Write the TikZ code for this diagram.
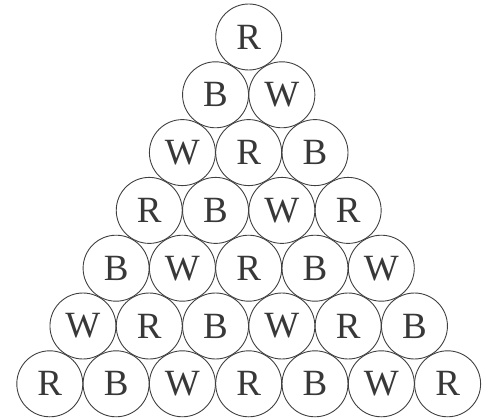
\documentclass[tikz,border=0pt]{standalone}
\usepackage{fontspec}
\setmainfont{Liberation Serif}
\begin{document}
\begin{tikzpicture}[x=1pt, y=-1pt,
    ball/.style={circle, draw=black!75, line width=0.9pt, minimum size=66pt, inner sep=0pt, text=black!78, font=\fontsize{37}{37}\selectfont}
  ]
    \useasboundingbox (0,0) rectangle (494,419);
    % rows of balls, top to bottom
    \foreach \row/\letters in {1/{R}, 2/{B,W}, 3/{W,R,B}, 4/{R,B,W,R}, 5/{B,W,R,B,W}, 6/{W,R,B,W,R,B}, 7/{R,B,W,R,B,W,R}} {
      \foreach \c [count=\k] in \letters {
        \node[ball] (b\row-\k) at ({248.7+(\k-(\row+1)/2)*66.3}, {37+(\row-1)*57.8}) {\c};
      }
    }
  \end{tikzpicture}
\end{document}
